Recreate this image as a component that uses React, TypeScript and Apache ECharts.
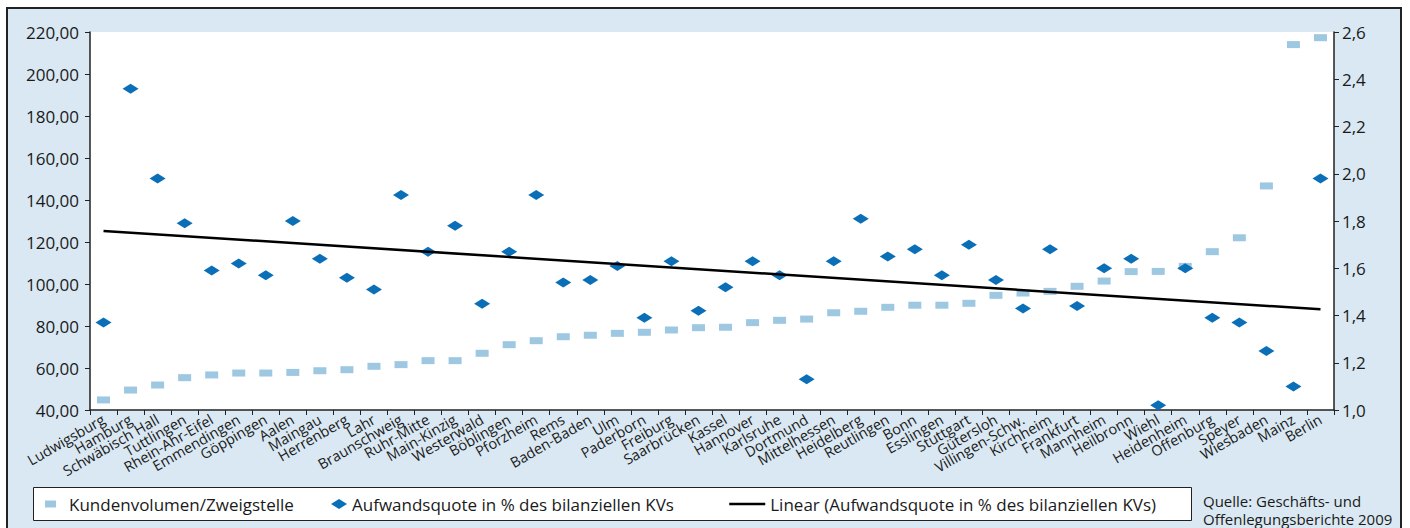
import React, { useEffect, useRef } from "react";
import * as echarts from "echarts";

const categories = [
  "Ludwigsburg", "Hamburg", "Schwäbisch Hall", "Tuttlingen", "Rhein-Ahr-Eifel", "Emmendingen",
  "Göppingen", "Aalen", "Maingau", "Herrenberg", "Lahr", "Braunschweig", "Ruhr-Mitte", "Main-Kinzig",
  "Westerwald", "Böblingen", "Pforzheim", "Rems", "Baden-Baden", "Ulm", "Paderborn", "Freiburg",
  "Saarbrücken", "Kassel", "Hannover", "Karlsruhe", "Dortmund", "Mittelhessen", "Heidelberg",
  "Reutlingen", "Bonn", "Esslingen", "Stuttgart", "Gütersloh", "Villingen-Schw.", "Kirchheim",
  "Frankfurt", "Mannheim", "Heilbronn", "Wiehl", "Heidenheim", "Offenburg", "Speyer", "Wiesbaden",
  "Mainz", "Berlin",
];

const kundenvolumen = [
  44.8, 49.5, 51.9, 55.4, 56.7, 57.6, 57.6, 57.9, 58.7, 59.2, 60.8, 61.6, 63.5, 63.5,
  67.0, 71.1, 73.0, 74.9, 75.6, 76.5, 77.0, 78.1, 79.2, 79.4, 81.6, 82.7, 83.3, 86.3, 87.0, 88.9, 89.9, 89.9,
  90.8, 94.6, 95.7, 96.5, 98.9, 101.4, 105.9, 106.0, 108.4, 115.4, 122.0, 146.7, 214.0, 217.3,
];

const aufwandsquote = [
  1.37, 2.36, 1.98, 1.79, 1.59, 1.62, 1.57, 1.80, 1.64, 1.56, 1.51, 1.91, 1.67, 1.78,
  1.45, 1.67, 1.91, 1.54, 1.55, 1.61, 1.39, 1.63, 1.42, 1.52, 1.63, 1.57, 1.13, 1.63, 1.81, 1.65, 1.68, 1.57,
  1.70, 1.55, 1.43, 1.68, 1.44, 1.60, 1.64, 1.02, 1.60, 1.39, 1.37, 1.25, 1.10, 1.98,
];

// Linear trendline end values
const trendStart = 1.758;
const trendEnd = 1.426;

const seriesNames = [
  "Kundenvolumen/Zweigstelle",
  "Aufwandsquote in % des bilanziellen KVs",
  "Linear (Aufwandsquote in % des bilanziellen KVs)",
];

const sourceLines = ["Quelle: Geschäfts- und", "Offenlegungsberichte 2009"];

const FONT = "'Open Sans', sans-serif";
const BG = "#d9e8f2";
const SQUARE = "#9ec8e2";
const DIAMOND = "#0b6fb8";
const INK = "#1a1a1a";

export default function App() {
  const ref = useRef<HTMLDivElement>(null);
  useEffect(() => {
    const chart = echarts.init(ref.current!, null, { renderer: "svg" });
    const n = categories.length;
    const trend = categories.map((_, i) => (i === 0 ? trendStart : i === n - 1 ? trendEnd : null));
    const legendText = { fontFamily: FONT, fontSize: 17, color: INK, lineHeight: 20 };
    chart.setOption({
      animation: false,
      backgroundColor: "#ffffff",
      textStyle: { fontFamily: FONT },
      grid: {
        left: 90,
        right: 76,
        top: 32,
        bottom: 118,
        show: true,
        backgroundColor: "#ffffff",
        borderWidth: 0,
      },
      graphic: [
        {
          type: "rect",
          z: -100,
          shape: { x: 7, y: 8, width: 1394, height: 540 },
          style: { fill: BG, stroke: "#222", lineWidth: 2 },
          silent: true,
        },
        {
          type: "rect",
          z: 1,
          shape: { x: 33.5, y: 487.5, width: 1158, height: 33 },
          style: { fill: "#ffffff", stroke: "#222", lineWidth: 1 },
          silent: true,
        },
        {
          type: "text",
          z: 2,
          x: 1203,
          y: 492,
          style: {
            text: sourceLines.join("\n"),
            fontFamily: FONT,
            fontSize: 15,
            lineHeight: 18,
            fill: INK,
          },
        },
      ],
      legend: [
        {
          data: [seriesNames[0]],
          left: 45,
          top: 494,
          padding: 0,
          itemWidth: 11,
          itemHeight: 7,
          icon: "rect",
          itemStyle: { opacity: 1 },
          textStyle: { ...legendText, padding: [0, 0, 0, 8] },
        },
        {
          data: [seriesNames[1]],
          left: 331,
          top: 494,
          padding: 0,
          itemWidth: 16,
          itemHeight: 10,
          icon: "diamond",
          itemStyle: { opacity: 1 },
          textStyle: legendText,
        },
        {
          data: [seriesNames[2]],
          left: 728,
          top: 494,
          padding: 0,
          itemWidth: 36,
          itemHeight: 10,
          itemStyle: { color: "rgba(0,0,0,0)", borderWidth: 0, opacity: 0 },
          lineStyle: { color: "#000", width: 2.5, opacity: 1 },
          textStyle: legendText,
        },
      ],
      xAxis: {
        type: "category",
        data: categories,
        boundaryGap: true,
        axisLine: { lineStyle: { color: "#222", width: 1.5 } },
        axisTick: { show: true, length: 5, interval: 0, lineStyle: { color: "#222" } },
        axisLabel: {
          interval: 0,
          rotate: 30,
          margin: 8,
          fontFamily: FONT,
          fontSize: 14.5,
          color: INK,
        },
        splitLine: { show: false },
      },
      yAxis: [
        {
          type: "value",
          min: 40,
          max: 220,
          interval: 20,
          position: "left",
          axisLine: { show: true, lineStyle: { color: "#222", width: 1.5 } },
          axisTick: { show: true, length: 5, lineStyle: { color: "#222" } },
          axisLabel: {
            margin: 11,
            fontFamily: FONT,
            fontSize: 17,
            color: INK,
            formatter: (v: number) => v.toFixed(2).replace(".", ","),
          },
          splitLine: { show: false },
        },
        {
          type: "value",
          min: 1.0,
          max: 2.6,
          interval: 0.2,
          position: "right",
          axisLine: { show: true, lineStyle: { color: "#222", width: 1.5 } },
          axisTick: { show: true, length: 5, lineStyle: { color: "#222" } },
          axisLabel: {
            margin: 8,
            fontFamily: FONT,
            fontSize: 17,
            color: INK,
            formatter: (v: number) => v.toFixed(1).replace(".", ","),
          },
          splitLine: { show: false },
        },
      ],
      series: [
        {
          name: seriesNames[0],
          type: "scatter",
          yAxisIndex: 0,
          data: kundenvolumen,
          symbol: "rect",
          symbolSize: [13, 7],
          itemStyle: { color: SQUARE, opacity: 1 },
          z: 2,
        },
        {
          name: seriesNames[1],
          type: "scatter",
          yAxisIndex: 1,
          data: aufwandsquote,
          symbol: "diamond",
          symbolSize: [16, 10],
          itemStyle: { color: DIAMOND, opacity: 1 },
          z: 3,
        },
        {
          name: seriesNames[2],
          type: "line",
          yAxisIndex: 1,
          data: trend,
          connectNulls: true,
          symbol: "none",
          showSymbol: false,
          lineStyle: { color: "#000", width: 2.5 },
          itemStyle: { color: "#000" },
          z: 4,
        },
      ],
    });
    return () => chart.dispose();
  }, []);
  return (
    <div
      ref={ref}
      style={{ position: "fixed", left: 0, top: 0, width: 1410, height: 528, background: "#fff" }}
    />
  );
}
